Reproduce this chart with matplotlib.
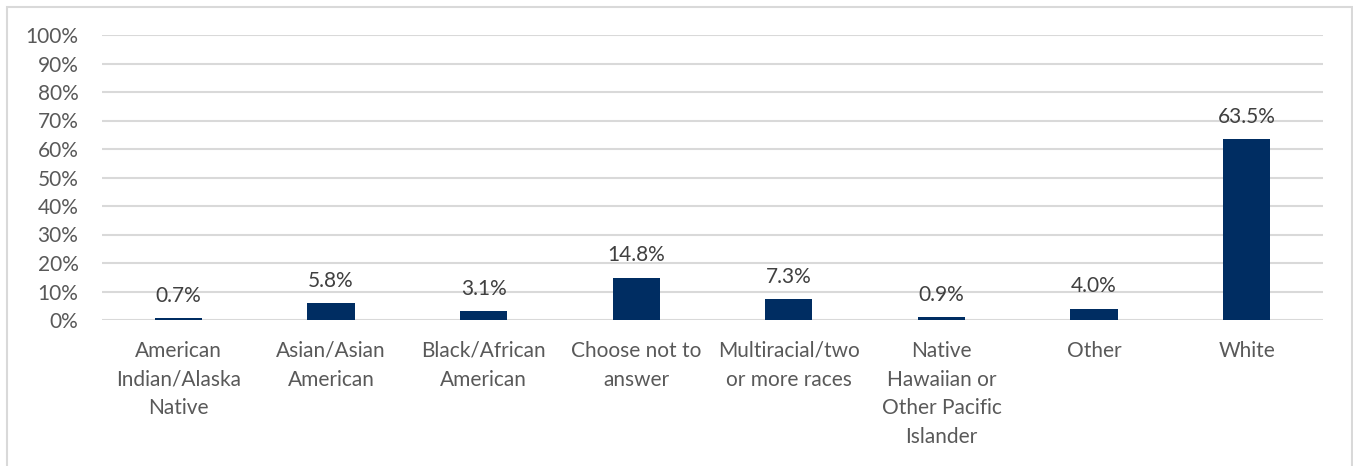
#!/usr/bin/env python3

import matplotlib
matplotlib.use('Agg')
import matplotlib.pyplot as plt
from matplotlib.patches import Rectangle
from matplotlib.ticker import FuncFormatter

categories = ["American\nIndian/Alaska\nNative", "Asian/Asian\nAmerican", "Black/African\nAmerican",
              "Choose not to\nanswer", "Multiracial/two\nor more races",
              "Native\nHawaiian or\nOther Pacific\nIslander", "Other", "White"]
values = [0.7, 5.8, 3.1, 14.8, 7.3, 0.9, 4.0, 63.5]
yticks = list(range(0, 101, 10))

plt.rcParams['font.family'] = ['Lato', 'DejaVu Sans']

#------------------------------------------------------------
fig = plt.figure(figsize=(13.53, 4.66), dpi=100)
ax = fig.add_axes([102 / 1353, 1 - 320 / 466, (1323 - 102) / 1353, (320 - 35) / 466])

# chart frame, cut off at the bottom
fig.patches.append(Rectangle((7 / 1353, -0.1), (1352 - 7) / 1353, 1.1 - 7 / 466,
                             transform=fig.transFigure, fill=False,
                             edgecolor='#d9d9d9', linewidth=1.5))

x = range(len(categories))
bars = ax.bar(x, values, width=0.31, color='#002d62', zorder=3)

for xi, v in zip(x, values):
    ax.annotate(f"{v:.1f}%", (xi, v), xytext=(0, 9), textcoords='offset points',
                ha='center', va='bottom', fontsize=15, color='#404040')

ax.set_xlim(-0.5, len(categories) - 0.5)
ax.set_ylim(0, 100)
ax.set_yticks(yticks)
ax.yaxis.set_major_formatter(FuncFormatter(lambda v, p: f"{int(v)}%"))
ax.set_xticks(list(x))
ax.set_xticklabels(categories, fontsize=15, color='#595959', linespacing=1.55)
ax.tick_params(axis='y', labelsize=15, labelcolor='#595959', length=0, pad=17)
ax.tick_params(axis='x', length=0, pad=15)
ax.yaxis.grid(True, color='#d9d9d9', linewidth=1.5, zorder=0)
for s in ax.spines.values():
    s.set_visible(False)

plt.savefig("out.png", dpi=100)
